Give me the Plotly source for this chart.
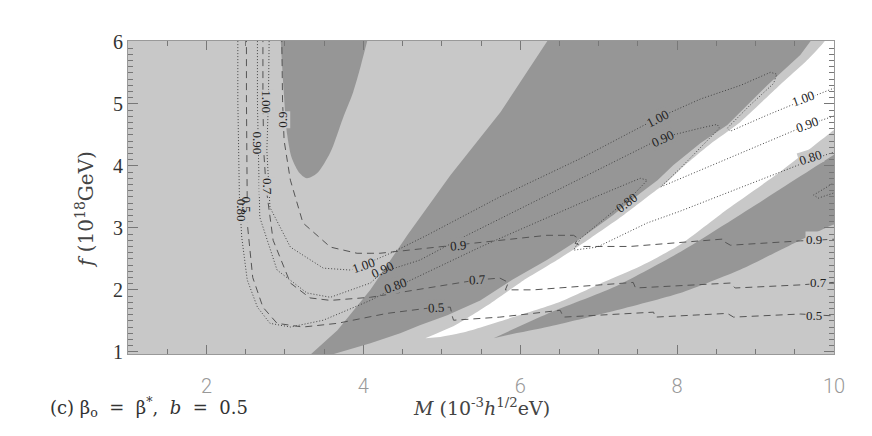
import plotly.graph_objects as go

LIGHT = "#c8c8c8"
DARK = "#969696"

# shaded regions, (M, f)
blob_m = [2.94, 2.98, 3.03, 3.09, 3.19, 3.28, 3.41, 3.58, 3.74, 3.87, 3.96, 4.07, 4.09]
blob_f = [6.19, 5.30, 4.50, 4.12, 3.88, 3.80, 3.88, 4.22, 4.77, 5.19, 5.58, 6.11, 6.19]

band1_m = [3.30, 3.33, 3.67, 4.09, 4.56, 5.11, 5.75, 6.34, 6.39, 9.76, 9.70, 9.57, 9.15, 8.64,
           8.30, 7.95, 7.75, 7.53, 7.19, 6.77, 6.34, 5.91, 5.49, 5.07, 4.72, 4.47, 4.09, 3.61, 3.55]
band1_f = [0.90, 0.96, 1.35, 2.00, 2.88, 3.85, 4.87, 6.01, 6.10, 6.10, 6.01, 5.79, 5.30, 4.66,
           4.37, 4.01, 3.77, 3.56, 3.21, 2.83, 2.48, 2.17, 1.83, 1.59, 1.43, 1.30, 1.14, 0.96, 0.90]

white_m = [4.79, 5.17, 5.62, 6.04, 6.47, 6.89, 7.31, 7.66, 7.88, 8.08, 8.42, 8.77, 9.28, 9.67, 9.88,
           9.95, 10.3, 10.3, 10.08, 9.99, 9.32, 8.64, 8.04, 7.53, 7.02, 6.51, 5.91, 5.32, 4.98]
white_f = [1.22, 1.43, 1.78, 2.15, 2.48, 2.83, 3.20, 3.54, 3.75, 3.99, 4.35, 4.67, 5.27, 5.72, 6.01,
           6.19, 6.19, 4.66, 4.66, 4.57, 3.91, 3.30, 2.73, 2.38, 2.10, 1.81, 1.56, 1.33, 1.24]

band2_m = [5.66, 6.34, 7.19, 8.04, 9.10, 9.99, 10.15, 10.3, 10.3, 10.15, 9.99, 9.44, 8.81, 8.04,
           7.19, 6.34, 5.87]
band2_f = [1.22, 1.61, 2.04, 2.61, 3.45, 4.17, 4.30, 4.30, 3.10, 3.10, 3.05, 2.72, 2.33, 1.95,
           1.66, 1.40, 1.28]

# contour lines
d05_m = [2.51, 2.51, 2.52, 2.52, 2.59, 2.72, 2.90, 3.23, 3.67, 4.30, 4.92, 5.11, 5.13, 5.15, 5.74,
         6.51, 6.55, 7.19, 7.70, 7.72, 8.64, 8.72, 9.57, 9.99, 10.05]
d05_f = [6.11, 5.06, 3.37, 3.08, 2.20, 1.72, 1.46, 1.40, 1.46, 1.62, 1.72, 1.72, 1.59, 1.51, 1.56,
         1.67, 1.56, 1.61, 1.64, 1.56, 1.62, 1.56, 1.61, 1.58, 1.58]
d07_m = [2.72, 2.72, 2.73, 2.76, 2.85, 3.07, 3.32, 3.58, 4.09, 4.47, 4.89, 5.45, 5.74, 5.85, 5.81,
         6.17, 7.02, 7.44, 7.47, 8.30, 8.68, 8.74, 9.57, 9.99, 10.05]
d07_f = [6.11, 5.06, 4.25, 3.66, 2.80, 2.11, 1.87, 1.83, 1.88, 1.96, 2.04, 2.16, 2.19, 2.12, 2.00,
         2.00, 2.08, 2.12, 2.03, 2.08, 2.11, 2.03, 2.08, 2.12, 2.12]
d09_m = [2.96, 2.97, 2.99, 3.07, 3.23, 3.58, 3.92, 4.21, 4.72, 5.53, 5.91, 6.34, 6.68, 6.74, 6.70,
         6.80, 7.40, 8.04, 8.59, 8.61, 8.68, 9.57, 9.99, 10.05]
d09_f = [6.11, 5.06, 4.41, 3.77, 3.08, 2.69, 2.59, 2.59, 2.66, 2.77, 2.83, 2.88, 2.88, 2.83, 2.75,
         2.70, 2.70, 2.77, 2.82, 2.77, 2.72, 2.79, 2.82, 2.82]

p08_m = [2.40, 2.40, 2.42, 2.45, 2.52, 2.65, 2.81, 3.07, 3.49, 4.09, 4.41, 4.72, 5.49, 5.83, 6.77,
         7.53, 7.62, 7.44, 7.02, 6.77, 6.68, 6.98, 7.62, 8.04, 8.93, 9.70, 9.99, 10.05]
p08_f = [6.11, 5.06, 3.50, 2.85, 2.16, 1.72, 1.46, 1.40, 1.51, 1.83, 2.04, 2.23, 2.69, 2.88, 3.40,
         3.80, 3.77, 3.53, 3.09, 2.83, 2.64, 2.69, 3.08, 3.27, 3.71, 4.09, 4.22, 4.24]
p09_m = [2.65, 2.65, 2.66, 2.68, 2.90, 3.28, 3.58, 4.09, 4.25, 4.72, 5.32, 6.77, 7.82, 8.30, 8.51,
         8.54, 8.30, 8.04, 7.79, 8.30, 9.06, 9.66, 9.99, 10.05]
p09_f = [6.11, 5.06, 4.37, 3.17, 2.32, 1.95, 1.88, 2.11, 2.29, 2.48, 2.88, 3.80, 4.46, 4.61, 4.67,
         4.61, 4.29, 3.96, 3.66, 3.93, 4.33, 4.66, 4.80, 4.82]
p10_m = [2.80, 2.79, 2.77, 2.81, 3.07, 3.49, 3.83, 4.00, 4.38, 4.81, 5.74, 6.77, 7.75, 8.30, 8.81,
         9.19, 9.27, 9.23, 8.93, 8.64, 8.68, 9.15, 9.61, 9.99, 10.05]
p10_f = [6.11, 5.06, 4.25, 3.33, 2.69, 2.35, 2.32, 2.40, 2.61, 2.88, 3.50, 4.12, 4.77, 5.08, 5.30,
         5.51, 5.48, 5.33, 4.98, 4.61, 4.56, 4.82, 5.06, 5.25, 5.28]
loop_m = [10.05, 9.99, 9.74, 9.80, 9.99, 10.05]
loop_f = [3.73, 3.72, 3.53, 3.48, 3.56, 3.57]

# contour labels
lab_text = ["1.00", "0.90", "0.9", "0.7", "0.80", "0.5",
            "1.00", "0.90", "0.80", "0.9", "0.7", "0.5",
            "1.00", "0.90", "0.80",
            "1.00", "0.90", "0.80", "0.9", "0.7", "0.5"]
lab_m = [2.77, 2.65, 2.96, 2.77, 2.45, 2.51,
         4.00, 4.25, 4.41, 5.21, 5.45, 4.92,
         7.75, 7.82, 7.36,
         9.61, 9.66, 9.70, 9.74, 9.80, 9.74]
lab_f = [5.03, 4.37, 4.74, 3.66, 3.28, 3.37,
         2.40, 2.33, 2.07, 2.72, 2.16, 1.72,
         4.77, 4.45, 3.41,
         5.08, 4.66, 4.14, 2.82, 2.12, 1.58]
lab_angle = [90, 90, -90, 90, 90, 90,
             -20, -25, -20, -5, -3, -3,
             -27, -25, -38,
             -20, -20, -18, 0, 0, 0]
lab_bg = [LIGHT, LIGHT, LIGHT, LIGHT, LIGHT, None,
          LIGHT, None, DARK, DARK, DARK, DARK,
          DARK, DARK, None,
          "white", "white", LIGHT, LIGHT, LIGHT, LIGHT]

fig = go.Figure()
fig.add_trace(go.Scatter(x=band1_m, y=band1_f, fill="toself", fillcolor=DARK,
                         line=dict(width=0), mode="lines", hoverinfo="skip"))
fig.add_trace(go.Scatter(x=blob_m, y=blob_f, fill="toself", fillcolor=DARK,
                         line=dict(width=0, shape="spline", smoothing=0.8),
                         mode="lines", hoverinfo="skip"))
fig.add_trace(go.Scatter(x=band2_m, y=band2_f, fill="toself", fillcolor=DARK,
                         line=dict(width=0, shape="spline", smoothing=0.6),
                         mode="lines", hoverinfo="skip"))
fig.add_trace(go.Scatter(x=white_m, y=white_f, fill="toself", fillcolor="white",
                         line=dict(width=0, shape="spline", smoothing=0.6),
                         mode="lines", hoverinfo="skip"))

for xs, ys in [(d05_m, d05_f), (d07_m, d07_f), (d09_m, d09_f)]:
    fig.add_trace(go.Scatter(x=xs, y=ys, mode="lines",
                             line=dict(color="#555555", width=1, dash="7px,5px")))
for xs, ys in [(p08_m, p08_f), (p09_m, p09_f), (p10_m, p10_f), (loop_m, loop_f)]:
    fig.add_trace(go.Scatter(x=xs, y=ys, mode="lines",
                             line=dict(color="#444444", width=1, dash="1px,2px")))

for t, m, f, a, bg in zip(lab_text, lab_m, lab_f, lab_angle, lab_bg):
    fig.add_annotation(x=m, y=f, text=t, textangle=a, showarrow=False,
                       font=dict(family="Liberation Serif", size=13, color="#222222"),
                       bgcolor=bg, borderpad=0)

# titles (page body adds an 8px margin, so the figure is 8px smaller)
fig.add_annotation(xref="paper", yref="paper", x=0.501, y=-0.169,
                   xanchor="center", yanchor="middle",
                   text="<i>M</i> (10<sup>-3</sup><i>h</i><sup>1/2</sup>eV)",
                   showarrow=False, font=dict(family="DejaVu Serif", size=19, color="#444444"))
fig.add_annotation(xref="paper", yref="paper", x=-0.061, y=0.463, textangle=-90,
                   xanchor="center", yanchor="middle",
                   text="<i>f</i> (10<sup>18</sup>GeV)",
                   showarrow=False, font=dict(family="DejaVu Serif", size=20, color="#444444"))
fig.add_annotation(xref="paper", yref="paper", x=-0.113, y=-0.169,
                   xanchor="left", yanchor="middle",
                   text="(c) β<sub>o</sub> &nbsp;=&nbsp; β<sup>*</sup>, &nbsp;<i>b</i> &nbsp;=&nbsp; 0.5",
                   showarrow=False, font=dict(family="DejaVu Serif", size=18, color="#333333"))

fig.update_layout(width=864, height=428,
                  margin=dict(l=120, r=38, t=33, b=82),
                  paper_bgcolor="white", plot_bgcolor=LIGHT,
                  showlegend=False,
                  xaxis=dict(range=[1, 10], tickvals=[2, 4, 6, 8, 10], ticks="inside", ticklen=9,
                             tickcolor="#777777", showline=True, linecolor="#999999", mirror="allticks",
                             showgrid=False, zeroline=False, ticklabelstandoff=14,
                             tickfont=dict(family="Roboto", size=20, color="#999999", weight=300),
                             minor=dict(dtick=0.5, ticklen=5, ticks="inside", tickcolor="#777777")),
                  yaxis=dict(range=[0.965, 6.015], tickvals=[1, 2, 3, 4, 5, 6], ticks="inside", ticklen=10,
                             tickcolor="#777777", showline=True, linecolor="#999999", mirror="allticks",
                             showgrid=False, zeroline=False,
                             tickfont=dict(family="Liberation Serif", size=20, color="#333333"),
                             minor=dict(dtick=0.1, ticklen=5, ticks="inside", tickcolor="#777777")))

fig.write_html("out.html")
